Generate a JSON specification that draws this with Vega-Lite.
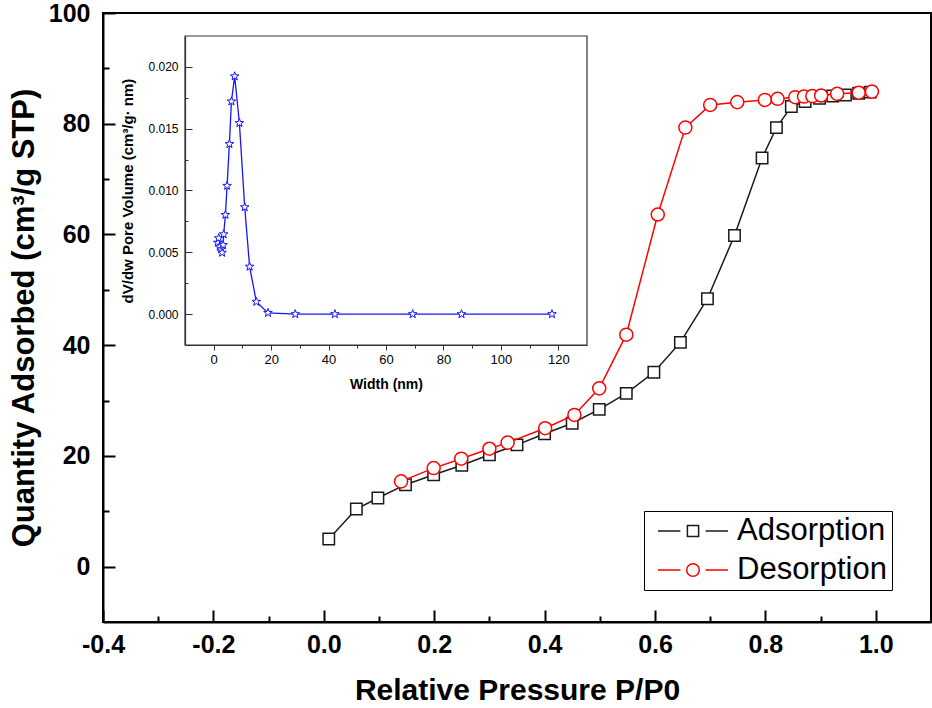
{
  "$schema": "https://vega.github.io/schema/vega-lite/v6.json",
  "width": 828,
  "height": 609,
  "autosize": {"type": "none"},
  "padding": {"left": 103, "top": 13, "right": 1, "bottom": 86},
  "background": "white",
  "config": {
    "view": {"stroke": "black", "strokeWidth": 2},
    "font": "Liberation Sans"
  },
  "datasets": {
    "iso": [
      {"branch": "Adsorption", "p": 0.009, "q": 5.0},
      {"branch": "Adsorption", "p": 0.059, "q": 10.4},
      {"branch": "Adsorption", "p": 0.098, "q": 12.4},
      {"branch": "Adsorption", "p": 0.148, "q": 14.8},
      {"branch": "Adsorption", "p": 0.199, "q": 16.6},
      {"branch": "Adsorption", "p": 0.250, "q": 18.3},
      {"branch": "Adsorption", "p": 0.300, "q": 20.2},
      {"branch": "Adsorption", "p": 0.350, "q": 22.0},
      {"branch": "Adsorption", "p": 0.400, "q": 24.0},
      {"branch": "Adsorption", "p": 0.450, "q": 25.9},
      {"branch": "Adsorption", "p": 0.499, "q": 28.4},
      {"branch": "Adsorption", "p": 0.548, "q": 31.3},
      {"branch": "Adsorption", "p": 0.598, "q": 35.1},
      {"branch": "Adsorption", "p": 0.646, "q": 40.5},
      {"branch": "Adsorption", "p": 0.695, "q": 48.4},
      {"branch": "Adsorption", "p": 0.744, "q": 59.8},
      {"branch": "Adsorption", "p": 0.794, "q": 73.8},
      {"branch": "Adsorption", "p": 0.820, "q": 79.3},
      {"branch": "Adsorption", "p": 0.847, "q": 83.1},
      {"branch": "Adsorption", "p": 0.872, "q": 84.0},
      {"branch": "Adsorption", "p": 0.898, "q": 84.6},
      {"branch": "Adsorption", "p": 0.922, "q": 85.0},
      {"branch": "Adsorption", "p": 0.945, "q": 85.2},
      {"branch": "Adsorption", "p": 0.969, "q": 85.5},
      {"branch": "Adsorption", "p": 0.990, "q": 85.7},
      {"branch": "Desorption", "p": 0.140, "q": 15.4},
      {"branch": "Desorption", "p": 0.199, "q": 17.8},
      {"branch": "Desorption", "p": 0.249, "q": 19.5},
      {"branch": "Desorption", "p": 0.300, "q": 21.3},
      {"branch": "Desorption", "p": 0.333, "q": 22.4},
      {"branch": "Desorption", "p": 0.401, "q": 25.0},
      {"branch": "Desorption", "p": 0.454, "q": 27.4},
      {"branch": "Desorption", "p": 0.499, "q": 32.2},
      {"branch": "Desorption", "p": 0.548, "q": 41.9},
      {"branch": "Desorption", "p": 0.605, "q": 63.6},
      {"branch": "Desorption", "p": 0.655, "q": 79.3},
      {"branch": "Desorption", "p": 0.700, "q": 83.4},
      {"branch": "Desorption", "p": 0.749, "q": 83.9},
      {"branch": "Desorption", "p": 0.799, "q": 84.3},
      {"branch": "Desorption", "p": 0.822, "q": 84.5},
      {"branch": "Desorption", "p": 0.854, "q": 84.8},
      {"branch": "Desorption", "p": 0.870, "q": 84.9},
      {"branch": "Desorption", "p": 0.885, "q": 85.0},
      {"branch": "Desorption", "p": 0.901, "q": 85.1},
      {"branch": "Desorption", "p": 0.930, "q": 85.4},
      {"branch": "Desorption", "p": 0.969, "q": 85.6},
      {"branch": "Desorption", "p": 0.993, "q": 85.8}
    ],
    "psd": [
      {"w": 1.39, "v": 0.00578},
      {"w": 1.74, "v": 0.00614},
      {"w": 2.09, "v": 0.00546},
      {"w": 2.57, "v": 0.00525},
      {"w": 2.92, "v": 0.00497},
      {"w": 3.27, "v": 0.00559},
      {"w": 3.48, "v": 0.00646},
      {"w": 4.07, "v": 0.00803},
      {"w": 4.66, "v": 0.01038},
      {"w": 5.46, "v": 0.01376},
      {"w": 6.16, "v": 0.01721},
      {"w": 7.30, "v": 0.01924},
      {"w": 8.94, "v": 0.01546},
      {"w": 10.8, "v": 0.00865},
      {"w": 12.5, "v": 0.00384},
      {"w": 14.84, "v": 0.0010},
      {"w": 18.9, "v": 0.0001},
      {"w": 28.4, "v": 0.0},
      {"w": 42.2, "v": 0.0},
      {"w": 69.3, "v": 0.0},
      {"w": 86.3, "v": 0.0},
      {"w": 117.8, "v": 0.0}
    ],
    "frame": [
      {"x0": -10, "x1": 130, "y0": -0.0025, "y1": 0.0225}
    ]
  },
  "layer": [
    {
      "data": {"name": "iso"},
      "encoding": {
        "x": {
          "field": "p", "type": "quantitative",
          "scale": {"domain": [-0.4, 1.1], "nice": false, "zero": false},
          "axis": {
            "orient": "bottom",
            "values": [-0.4, -0.3, -0.2, -0.1, 0, 0.1, 0.2, 0.3, 0.4, 0.5, 0.6, 0.7, 0.8, 0.9, 1.0],
            "labelExpr": "abs(round(datum.value*10)) % 2 == 0 ? (datum.value < -0.001 ? '-' : '') + format(abs(datum.value), '.1f') : ''",
            "tickSize": -12, "tickWidth": 2, "tickColor": "black",
            "tickDash": {"condition": {"test": "abs(round(datum.value*10)) % 2 == 1", "value": [6, 40]}, "value": [40, 0]},
            "domainColor": "black", "domainWidth": 2,
            "labelFont": "Liberation Sans", "labelFontSize": 25, "labelFontWeight": "bold", "labelColor": "black",
            "labelPadding": 22, "labelOverlap": false, "labelFlush": false,
            "grid": false,
            "title": "Relative Pressure P/P0", "titleFont": "Liberation Sans", "titleFontSize": 30,
            "titleFontWeight": "bold", "titleColor": "black", "titlePadding": 18
          }
        },
        "y": {
          "field": "q", "type": "quantitative",
          "scale": {"domain": [-10, 100], "nice": false, "zero": false},
          "axis": {
            "orient": "left",
            "values": [0, 10, 20, 30, 40, 50, 60, 70, 80, 90, 100],
            "labelExpr": "datum.value % 20 == 0 ? format(datum.value, 'd') : ''",
            "tickSize": -12, "tickWidth": 2, "tickColor": "black",
            "tickDash": {"condition": {"test": "datum.value % 20 == 10", "value": [6, 40]}, "value": [40, 0]},
            "domainColor": "black", "domainWidth": 2,
            "labelFont": "Liberation Sans", "labelFontSize": 25, "labelFontWeight": "bold", "labelColor": "black",
            "labelPadding": 25, "labelOverlap": false, "labelFlush": false,
            "grid": false,
            "title": "Quantity Adsorbed (cm³/g STP)", "titleFont": "Liberation Sans", "titleFontSize": 31,
            "titleFontWeight": "bold", "titleColor": "black", "titlePadding": 8
          }
        }
      },
      "layer": [
        {
          "transform": [{"filter": "datum.branch == 'Adsorption'"}],
          "mark": {"type": "line", "color": "#1a1a1a", "strokeWidth": 1.5},
          "encoding": {}
        },
        {
          "transform": [{"filter": "datum.branch == 'Adsorption'"}],
          "mark": {"type": "point", "shape": "square", "size": 130, "filled": true, "fill": "white", "stroke": "#1a1a1a", "strokeWidth": 1.5, "opacity": 1},
          "encoding": {}
        },
        {
          "transform": [{"filter": "datum.branch == 'Desorption'"}],
          "mark": {"type": "line", "color": "#ff0000", "strokeWidth": 1.5},
          "encoding": {}
        },
        {
          "transform": [{"filter": "datum.branch == 'Desorption'"}],
          "mark": {"type": "point", "shape": "circle", "size": 170, "filled": true, "fill": "white", "stroke": "#ff0000", "strokeWidth": 1.5, "opacity": 1},
          "encoding": {}
        },
        {
          "transform": [{"filter": "datum.q > 1000"}],
          "mark": {"type": "point", "filled": false, "strokeWidth": 1.5},
          "encoding": {
            "shape": {
              "field": "branch", "type": "nominal",
              "scale": {
                "domain": ["Adsorption", "Desorption"],
                "range": [
                  "M-1,0H-0.36M0.36,0H1M-0.16,-0.16H0.16V0.16H-0.16Z",
                  "M-1,0H-0.36M0.36,0H1M-0.18,0A0.18,0.18 0 1,1 0.18,0A0.18,0.18 0 1,1 -0.18,0Z"
                ]
              },
              "legend": {
                "title": null, "orient": "none", "legendX": 541, "legendY": 498,
                "symbolSize": 4900, "symbolStrokeWidth": 1.5, "symbolOpacity": 1,
                "symbolOffset": 8, "labelOffset": 8,
                "labelFont": "Liberation Sans", "labelFontSize": 31, "labelColor": "black", "labelLimit": 400,
                "strokeColor": "black", "fillColor": "white", "padding": 5,
                "clipHeight": 30, "rowPadding": 8
              }
            },
            "stroke": {
              "field": "branch", "type": "nominal",
              "scale": {"domain": ["Adsorption", "Desorption"], "range": ["#1a1a1a", "#ff0000"]},
              "legend": {
                "title": null, "orient": "none", "legendX": 541, "legendY": 498,
                "symbolSize": 4900, "symbolStrokeWidth": 1.5, "symbolOpacity": 1,
                "symbolOffset": 8, "labelOffset": 8,
                "labelFont": "Liberation Sans", "labelFontSize": 31, "labelColor": "black", "labelLimit": 400,
                "strokeColor": "black", "fillColor": "white", "padding": 5,
                "clipHeight": 30, "rowPadding": 8
              }
            }
          }
        }
      ]
    },
    {
      "encoding": {
        "x": {
          "field": "w", "type": "quantitative",
          "scale": {"domain": [-10, 130], "range": [82, 484], "nice": false, "zero": false},
          "axis": {
            "orient": "bottom", "offset": -277,
            "values": [0, 10, 20, 30, 40, 50, 60, 70, 80, 90, 100, 110, 120],
            "labelExpr": "datum.value % 20 == 0 ? format(datum.value, 'd') : ''",
            "tickSize": 5, "tickWidth": 1, "tickColor": "#333333",
            "tickDash": {"condition": {"test": "datum.value % 20 == 10", "value": [3, 20]}, "value": [20, 0]},
            "domainColor": "#333333", "domainWidth": 1.2,
            "labelFont": "Liberation Sans", "labelFontSize": 13, "labelColor": "black",
            "labelPadding": 3, "labelOverlap": false, "labelFlush": false,
            "grid": false,
            "title": "Width (nm)", "titleFont": "Liberation Sans", "titleFontSize": 14,
            "titleFontWeight": "bold", "titleColor": "black", "titlePadding": 11
          }
        },
        "y": {
          "field": "v", "type": "quantitative",
          "scale": {"domain": [-0.0025, 0.0225], "range": [332, 23], "nice": false, "zero": false},
          "axis": {
            "orient": "left", "offset": -82,
            "values": [0, 0.0025, 0.005, 0.0075, 0.01, 0.0125, 0.015, 0.0175, 0.02],
            "labelExpr": "round(datum.value*400) % 2 == 0 ? format(datum.value, '.3f') : ''",
            "tickSize": -7, "tickWidth": 1, "tickColor": "#333333",
            "tickDash": {"condition": {"test": "round(datum.value*400) % 2 == 1", "value": [3, 20]}, "value": [20, 0]},
            "domainColor": "#333333", "domainWidth": 1.2,
            "labelFont": "Liberation Sans", "labelFontSize": 12, "labelColor": "black",
            "labelPadding": 14, "labelOverlap": false, "labelFlush": false,
            "grid": false,
            "title": "dV/dw Pore Volume (cm³/g· nm)", "titleFont": "Liberation Sans", "titleFontSize": 15,
            "titleFontWeight": "bold", "titleColor": "black", "titlePadding": 12
          }
        }
      },
      "layer": [
        {
          "data": {"name": "frame"},
          "mark": {"type": "rect", "fillOpacity": 0, "stroke": "#333333", "strokeWidth": 1.2},
          "encoding": {
            "x": {"field": "x0", "type": "quantitative"},
            "x2": {"field": "x1"},
            "y": {"field": "y0", "type": "quantitative"},
            "y2": {"field": "y1"}
          }
        },
        {
          "data": {"name": "psd"},
          "mark": {"type": "line", "color": "#1515ff", "strokeWidth": 1.3},
          "encoding": {}
        },
        {
          "data": {"name": "psd"},
          "mark": {
            "type": "point",
            "shape": "M0,-1L0.235,-0.324L0.951,-0.309L0.38,0.124L0.588,0.809L0,0.4L-0.588,0.809L-0.38,0.124L-0.951,-0.309L-0.235,-0.324Z",
            "size": 81, "filled": true, "fill": "white", "stroke": "#1515ff", "strokeWidth": 1, "opacity": 1
          },
          "encoding": {}
        }
      ]
    }
  ],
  "resolve": {
    "scale": {"x": "independent", "y": "independent"},
    "axis": {"x": "independent", "y": "independent"}
  }
}
